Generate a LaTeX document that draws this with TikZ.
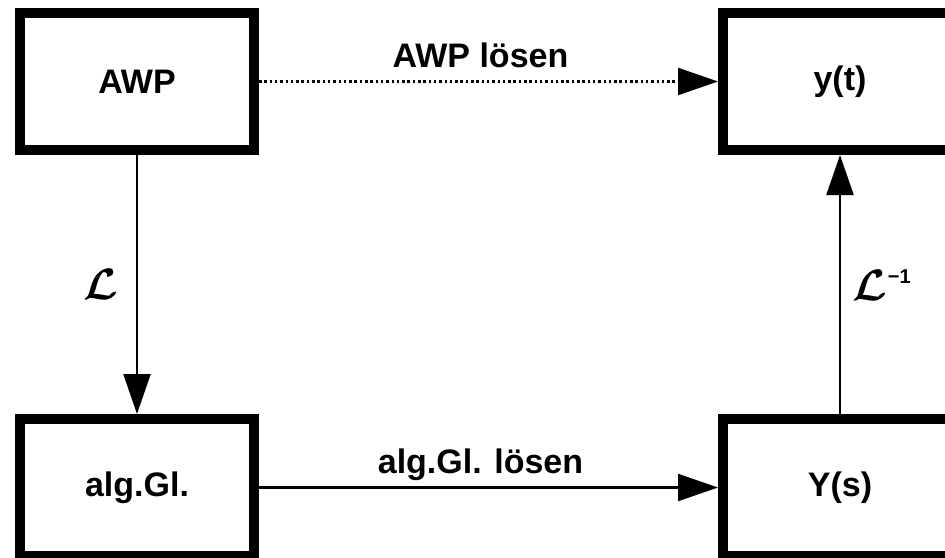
\documentclass[tikz,border=0pt]{standalone}
\usepackage{fontspec}
\setmainfont{Liberation Sans}
\usetikzlibrary{arrows.meta}
\begin{document}
\begin{tikzpicture}[x=1pt,y=-1pt,
  box/.style={draw, line width=10pt, minimum width=234pt, minimum height=137pt, inner sep=0pt,
    font=\fontsize{34}{40}\selectfont\bfseries},
  conn/.style={line width=2.2pt, -{Triangle[length=40pt,width=27pt]}},
  lbl/.style={font=\fontsize{34}{40}\selectfont\bfseries, inner sep=0pt, anchor=base},
  opl/.style={inner sep=0pt, anchor=base west}]
\useasboundingbox (0,0) rectangle (945,557);
\clip (0,0) rectangle (945,557);
\node[box] (awp) at (137,81.5) {AWP};
\node[box] (yt) at (840,81.5) {y(t)};
\node[box] (alg) at (137,487.5) {alg.Gl.};
\node[box] (Ys) at (840,487.5) {Y(s)};
\draw[conn, dash pattern=on 2.5pt off 2.8pt] (awp) -- node[lbl, yshift=14pt, xshift=-8pt] (l1) {AWP lösen} (yt);
\draw[conn] (alg) -- node[lbl, yshift=14pt, xshift=-8pt] (l2) {alg.Gl. lösen} (Ys);
\draw[conn] (awp) -- (alg);
\draw[conn] (Ys) -- (yt);
\node[opl] (L) at (83,299) {\scalebox{4.4}{\boldmath$\mathcal{L}$}};
\node[opl] (Linv) at (852,300) {\scalebox{4.4}{\boldmath$\mathcal{L}$}\kern1pt\raisebox{17pt}{\fontsize{20}{24}\selectfont\bfseries −1}};
\end{tikzpicture}
\end{document}
